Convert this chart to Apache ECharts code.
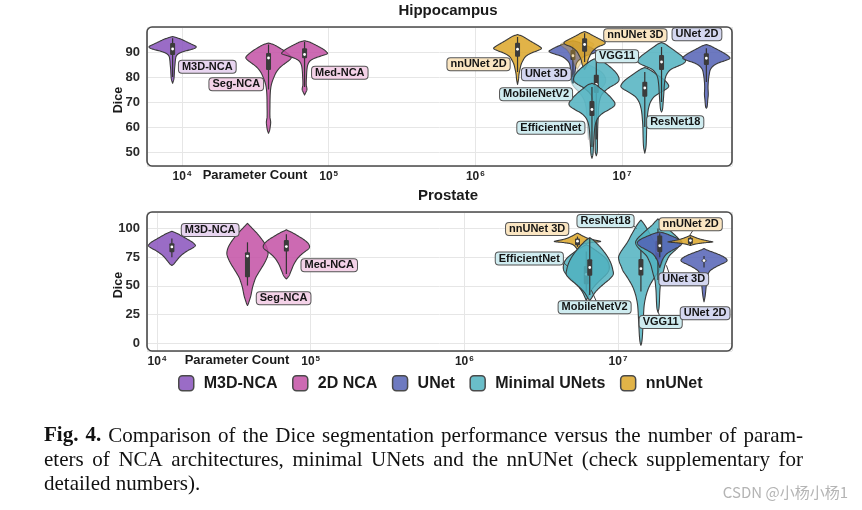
<!DOCTYPE html>
<html><head><meta charset="utf-8">
<script src="https://cdn.jsdelivr.net/npm/echarts@6/dist/echarts.min.js"></script>
<style>html,body{margin:0;padding:0;background:#fff}#c{width:862px;height:510px}</style>
</head><body><div id="c"></div>
<script>
// ================= DATA =================
const groups = ['M3D-NCA', '2D NCA', 'UNet', 'Minimal UNets', 'nnUNet'];
const xTickExps = [4, 5, 6, 7];
const hipYTicks = [50, 60, 70, 80, 90];
const proYTicks = [0, 25, 50, 75, 100];

// Hippocampus ('' = unlabeled overlapping fold, drawn translucent)
const hipModels = ['M3D-NCA', 'Seg-NCA', 'Med-NCA', 'nnUNet 2D', 'UNet 3D', '', 'nnUNet 3D', '', 'MobileNetV2', 'EfficientNet', 'ResNet18', 'VGG11', 'UNet 2D'];
const hipGroup = ['M3D-NCA', '2D NCA', '2D NCA', 'nnUNet', 'UNet', 'nnUNet', 'nnUNet', 'Minimal UNets', 'Minimal UNets', 'Minimal UNets', 'Minimal UNets', 'Minimal UNets', 'UNet'];
const hipParams = [8630, 38900, 68500, 1940000, 4630000, 4950000, 5560000, 5900000, 6680000, 6240000, 14300000, 18600000, 37600000];
const hipBox = [ // [low, q1, median, q3, high]
  [80, 88.8, 91.2, 93.6, 95.5],
  [75, 82.8, 87.6, 89.6, 93],
  [76, 87.5, 89, 91.5, 94],
  [82, 88.1, 91.1, 93.7, 96],
  [80, 86.8, 88.5, 90.8, 93],
  null,
  [86, 90.1, 93, 95.5, 97.5],
  null,
  [55, 73.6, 77, 80.9, 86],
  [52, 64.4, 67, 70.4, 76],
  [60, 72.1, 75.6, 78.1, 82],
  [70, 82.8, 86, 88.8, 92],
  [78, 84.8, 87.5, 89.5, 91.5]
];
const hipDensity = [ // [dice, relative density]
  [[96.2,0],[95.7,0.18],[95,0.38],[94,0.6],[93,0.82],[92.2,0.98],[91.6,0.95],[91,0.78],[90.3,0.5],[89.5,0.28],[88.5,0.16],[87,0.12],[85,0.1],[83,0.08],[81,0.07],[79,0.05],[77.5,0]],
  [[93.6,0],[93,0.2],[92,0.4],[90.5,0.65],[89,0.85],[87.8,0.95],[86.8,0.88],[85.5,0.7],[84,0.5],[82,0.33],[80,0.23],[78,0.15],[76,0.1],[73,0.07],[68,0.06],[64,0.06],[62,0.09],[60,0.07],[58.5,0.04],[57.5,0]],
  [[94.5,0],[94,0.2],[93,0.42],[92,0.62],[91,0.8],[90,0.92],[89.3,0.95],[88.5,0.72],[87.5,0.42],[86.5,0.24],[85,0.14],[83,0.1],[80,0.08],[77,0.07],[75,0.1],[74,0.06],[72.8,0]],
  [[97,0],[96.3,0.2],[95.3,0.38],[94.3,0.55],[93.2,0.75],[92.2,0.92],[91.4,1.0],[90.6,0.85],[89.6,0.58],[88.3,0.35],[86.5,0.22],[85,0.15],[83,0.1],[81,0.06],[79,0.04],[77,0]],
  [[94.5,0],[94,0.2],[93,0.45],[92,0.7],[91,0.9],[90.2,1.0],[89.3,0.8],[88.3,0.48],[87,0.28],[85.5,0.15],[83,0.1],[80,0.06],[78,0.03],[77.5,0]],
  [[96,0],[95,0.35],[94,0.55],[93,0.7],[92,0.6],[91,0.45],[89,0.3],[87,0.2],[85,0.12],[83,0]],
  [[98.2,0],[97.6,0.15],[96.7,0.32],[95.7,0.52],[94.7,0.72],[93.8,0.86],[93,0.8],[92,0.55],[90.5,0.35],[89,0.25],[87,0.15],[85,0.1],[83,0]],
  [[85,0],[83.5,0.3],[82,0.55],[80,0.7],[78,0.72],[76,0.6],[74,0.4],[72,0.25],[70,0.15],[66,0.08],[60,0.04],[55,0]],
  [[87.5,0],[86.8,0.18],[85.5,0.38],[84,0.58],[82.5,0.75],[81,0.88],[79.5,0.95],[78.3,0.93],[77.2,0.8],[75.8,0.55],[74.3,0.35],[72.8,0.22],[71,0.15],[68,0.1],[64,0.08],[60,0.06],[55,0.05],[50,0.04],[48.5,0]],
  [[77.5,0],[76.8,0.18],[75.5,0.35],[74,0.55],[72.5,0.72],[71,0.86],[69.5,0.96],[68.3,0.92],[67,0.72],[65.5,0.45],[64,0.28],[62,0.17],[59,0.11],[55,0.08],[52,0.06],[49,0.04],[47.5,0]],
  [[83.8,0],[83.2,0.15],[82.2,0.32],[81,0.5],[79.8,0.68],[78.6,0.84],[77.3,0.96],[76.2,1.0],[75.2,0.9],[74.2,0.72],[73,0.52],[72,0.38],[70,0.24],[68,0.17],[66,0.13],[63,0.1],[60,0.08],[56,0.07],[52,0.05],[49.5,0]],
  [[93.8,0],[93.2,0.15],[92.2,0.3],[91,0.48],[89.8,0.65],[88.6,0.82],[87.3,0.96],[86.2,1.0],[85.2,0.88],[84.2,0.65],[83.2,0.42],[82,0.28],[80,0.17],[77,0.12],[74,0.1],[70,0.07],[67,0.04],[66,0]],
  [[93,0],[92.4,0.18],[91.4,0.38],[90.3,0.6],[89.2,0.8],[88.2,0.94],[87.4,0.98],[86.6,0.8],[85.6,0.5],[84.5,0.3],[83,0.17],[81,0.12],[79,0.09],[76,0.07],[73,0.08],[71,0.06],[68,0.03],[67.5,0]]
];

// Prostate
const proModels = ['M3D-NCA', 'Seg-NCA', 'Med-NCA', 'nnUNet 3D', 'EfficientNet', 'MobileNetV2', 'ResNet18', 'VGG11', 'UNet 3D', 'nnUNet 2D', 'UNet 2D'];
const proGroup = ['M3D-NCA', '2D NCA', '2D NCA', 'nnUNet', 'Minimal UNets', 'Minimal UNets', 'Minimal UNets', 'Minimal UNets', 'UNet', 'nnUNet', 'UNet'];
const proParams = [12500, 38800, 69500, 5450000, 6220000, 6550000, 14100000, 18200000, 18700000, 29600000, 36300000];
const proBox = [
  [75, 79.3, 84, 87.2, 91.3],
  [50.2, 57.5, 76, 79.3, 88],
  [60.4, 79.9, 84.3, 90.1, 95],
  [84, 85.4, 89, 91.3, 93],
  [45, 51.4, 60, 67.4, 80],
  [42, 58.7, 66, 73.2, 92],
  [45, 59, 65, 73.5, 85],
  [55, 73.2, 80, 89.3, 100],
  [75, 79.3, 85, 93.9, 96],
  [85.5, 86.6, 89.5, 91.9, 93],
  [66, 71, 72, 73, 76]
];
const proDensity = [
  [[97.6,0],[96,0.2],[94,0.38],[92,0.55],[90,0.72],[88,0.88],[86,0.98],[85,1.0],[83,0.88],[81,0.7],[79,0.55],[77,0.42],[75,0.32],[73,0.24],[71,0.16],[69,0.08],[67.7,0]],
  [[104.6,0],[102,0.12],[99,0.26],[96,0.4],[92,0.56],[88,0.7],[84,0.81],[80,0.87],[77,0.87],[73,0.8],[69,0.7],[65,0.58],[61,0.46],[57,0.35],[53,0.28],[49,0.22],[45,0.18],[41,0.14],[37,0.08],[34,0.03],[32.8,0]],
  [[98.9,0],[97,0.2],[95,0.38],[93,0.54],[91,0.7],[89,0.83],[87,0.93],[85,0.98],[83.5,0.98],[82,0.93],[80,0.8],[77,0.62],[74,0.48],[71,0.38],[68,0.3],[65,0.24],[62,0.18],[59,0.12],[57,0.05],[56,0]],
  [[96,0],[95,0.1],[94,0.18],[93,0.28],[92,0.38],[91,0.52],[90,0.72],[89.2,0.92],[88.6,0.97],[87.8,0.6],[86.8,0.3],[85.3,0.15],[83.3,0.06],[81.5,0]],
  [[86,0],[84,0.18],[81,0.4],[78,0.6],[75,0.78],[72,0.9],[69,0.96],[66,0.98],[63,0.95],[60,0.85],[56,0.65],[52,0.45],[48,0.28],[44,0.15],[40,0.06],[37,0]],
  [[92,0],[90,0.15],[87,0.3],[84,0.44],[80,0.6],[76,0.74],[72,0.85],[68,0.93],[64,0.98],[60,1.0],[56,0.85],[52,0.62],[48,0.4],[44,0.22],[40,0.1],[37,0]],
  [[107.5,0],[105,0.1],[102,0.2],[98,0.31],[94,0.42],[90,0.52],[86.6,0.62],[82,0.78],[78,0.9],[75,0.95],[71,0.92],[67,0.84],[63,0.76],[58,0.6],[53,0.45],[48.7,0.34],[43,0.24],[38,0.18],[33,0.14],[28,0.12],[20,0.1],[12,0.08],[5,0.06],[0,0.03],[-2,0]],
  [[108.5,0],[106,0.12],[103,0.25],[100,0.42],[97,0.58],[94,0.74],[91,0.88],[88,0.95],[85,0.9],[82,0.78],[79,0.62],[76,0.48],[72,0.38],[68,0.3],[64,0.25],[60,0.2],[55,0.13],[50,0.1],[45,0.08],[40,0.07],[35,0.06],[30,0.04],[27,0]],
  [[97,0],[96,0.2],[94,0.45],[92,0.68],[90,0.86],[88,0.95],[86,0.92],[84,0.8],[82,0.62],[80,0.45],[78,0.3],[75,0.18],[72,0.1],[69,0.05],[66,0]],
  [[94,0],[93,0.12],[92,0.24],[91,0.38],[90,0.58],[89,0.8],[88.3,0.95],[87.6,0.6],[86.8,0.3],[86,0.12],[85.2,0]],
  [[82.5,0],[81,0.16],[79.5,0.36],[78,0.55],[76.5,0.72],[75,0.86],[73.5,0.95],[72,0.98],[70.5,0.9],[69,0.75],[67,0.55],[65,0.38],[63,0.25],[60,0.17],[57,0.13],[54,0.12],[51,0.1],[47,0.08],[43,0.06],[40,0.04],[36,0]]
];

// ================= LAYOUT / STYLE =================
const FONT = '"Liberation Sans", Arial, sans-serif';
const groupColor = { // composite colours (legend)
  'M3D-NCA': '#9a6cc6', '2D NCA': '#cc6ab2', 'UNet': '#6e7ac0', 'Minimal UNets': '#6abec9', 'nnUNet': '#e1b348'
};
const groupBase = { // violin fill (drawn at alpha 0.85)
  'M3D-NCA': [136, 82, 188], '2D NCA': [195, 80, 164], 'UNet': [84, 98, 181], 'Minimal UNets': [80, 178, 191], 'nnUNet': [220, 166, 40]
};
const labelFill = {
  'M3D-NCA': '#e8d5f0', '2D NCA': '#f4d2e8', 'UNet': '#d4d7f0', 'Minimal UNets': '#cfecf0', 'nnUNet': '#fbe6c2'
};
const grids = [
  { left: 147, top: 27, width: 585, height: 139 },
  { left: 147, top: 212, width: 585, height: 139 }
];
const xRangeExp = [[3.7614, 7.75], [3.935, 7.742]];
const yRange = [[44.4, 100], [-7, 114.5]];
const violinHalfWidth = [0.163, 0.153]; // decades
const labelAt = [ // label centres [log10 params, dice]
  {'M3D-NCA':[4.1725,84.1],'Seg-NCA':[4.370,77.1],'Med-NCA':[5.076,81.7],'nnUNet 2D':[6.022,85.1],'UNet 3D':[6.484,81.1],
   'MobileNetV2':[6.414,73.1],'EfficientNet':[6.515,59.7],'VGG11':[6.966,88.3],'nnUNet 3D':[7.091,96.7],'UNet 2D':[7.511,97.1],'ResNet18':[7.363,61.9]},
  {'M3D-NCA':[4.346,98.8],'Seg-NCA':[4.824,39.1],'Med-NCA':[5.121,67.9],'nnUNet 3D':[6.474,99.6],'EfficientNet':[6.423,73.8],
   'ResNet18':[6.919,106.6],'nnUNet 2D':[7.473,103.8],'UNet 3D':[7.428,55.7],'MobileNetV2':[6.848,31.2],'VGG11':[7.278,18.4],'UNet 2D':[7.567,26.1]}
];
const connectorAt = [ // label leader lines [[log10 from, dice], [log10 to, dice]]
  [],
  [[[6.638,71.4],[6.668,67.5]], [[6.859,36.5],[6.827,46.1]], [[7.094,103.5],[7.120,100]],
   [[7.336,59.8],[7.315,67.9]], [[7.271,23.6],[7.260,27.7]], [[7.488,98.5],[7.467,94.1]]]
];

const panels = [
  { models: hipModels, group: hipGroup, params: hipParams, box: hipBox, density: hipDensity, hw: violinHalfWidth[0], labels: labelAt[0], yTicks: hipYTicks, conns: connectorAt[0] },
  { models: proModels, group: proGroup, params: proParams, box: proBox, density: proDensity, hw: violinHalfWidth[1], labels: labelAt[1], yTicks: proYTicks, conns: connectorAt[1] }
];

function rgba(c, a) { return 'rgba(' + c[0] + ',' + c[1] + ',' + c[2] + ',' + a + ')'; }

// smooth outline rendering (cubic Hermite through the read profile points)
function outline(prof) {
  const n = prof.length, out = [];
  const m = prof.map(function (p, k) {
    if (k === 0) return (prof[1][1] - p[1]) / (prof[1][0] - p[0]);
    if (k === n - 1) return (p[1] - prof[k - 1][1]) / (p[0] - prof[k - 1][0]);
    return (prof[k + 1][1] - prof[k - 1][1]) / (prof[k + 1][0] - prof[k - 1][0]);
  });
  for (let k = 0; k < n - 1; k++) {
    const d0 = prof[k][0], d1 = prof[k + 1][0], h = d1 - d0;
    const w0 = prof[k][1], w1 = prof[k + 1][1];
    for (let s = 0; s < 8; s++) {
      const t = s / 8, t2 = t * t, t3 = t2 * t;
      const w = (2 * t3 - 3 * t2 + 1) * w0 + (t3 - 2 * t2 + t) * h * m[k] + (-2 * t3 + 3 * t2) * w1 + (t3 - t2) * h * m[k + 1];
      out.push([d0 + h * t, Math.max(0, w)]);
    }
  }
  out.push(prof[n - 1]);
  return out;
}

function violinRenderer(P) {
  return function (params, api) {
    const i = params.dataIndex;
    const prof = outline(P.density[i]), x0 = P.params[i], box = P.box[i];
    const R = [], L = [];
    prof.forEach(function (pt) {
      const f = Math.pow(10, pt[1] * P.hw);
      R.push(api.coord([x0 * f, pt[0]]));
      if (pt[1] > 0) L.unshift(api.coord([x0 / f, pt[0]]));
    });
    const ghost = !box;
    const base = groupBase[P.group[i]];
    const children = [{
      type: 'polygon',
      shape: { points: R.concat(L) },
      style: {
        fill: rgba(base, ghost ? 0.35 : 0.85),
        stroke: ghost ? 'rgba(70,70,70,0.25)' : '#3a3a3a',
        lineWidth: 1.1, lineJoin: 'round'
      }
    }];
    if (box) {
      const pLo = api.coord([x0, box[0]]), pQ1 = api.coord([x0, box[1]]), pM = api.coord([x0, box[2]]),
            pQ3 = api.coord([x0, box[3]]), pHi = api.coord([x0, box[4]]);
      children.push({ type: 'line', shape: { x1: pLo[0], y1: pLo[1], x2: pHi[0], y2: pHi[1] }, style: { stroke: '#333', lineWidth: 1.2 } });
      children.push({ type: 'rect', shape: { x: pQ1[0] - 2.5, y: pQ3[1], width: 5, height: pQ1[1] - pQ3[1], r: 1 }, style: { fill: '#3b3b3b' } });
      children.push({ type: 'circle', shape: { cx: pM[0], cy: pM[1], r: 1.4 }, style: { fill: '#ffffff' } });
    }
    return { type: 'group', children: children };
  };
}

function labelRenderer(P, names) {
  return function (params, api) {
    const name = names[params.dataIndex];
    const pos = P.labels[name];
    const gi = P.models.indexOf(name);
    const p = api.coord([Math.pow(10, pos[0]), pos[1]]);
    return {
      type: 'text', x: p[0], y: p[1], z2: 50,
      style: {
        text: name, align: 'center', verticalAlign: 'middle',
        font: 'bold 11px ' + FONT, fill: '#141414',
        backgroundColor: labelFill[P.group[gi]], borderColor: '#555', borderWidth: 1,
        borderRadius: 3, padding: [1, 3, 0, 3]
      }
    };
  };
}

function connRenderer(P) {
  return function (params, api) {
    const c = P.conns[params.dataIndex];
    const a = api.coord([Math.pow(10, c[0][0]), c[0][1]]), b = api.coord([Math.pow(10, c[1][0]), c[1][1]]);
    return { type: 'line', shape: { x1: a[0], y1: a[1], x2: b[0], y2: b[1] }, style: { stroke: '#444', lineWidth: 1 } };
  };
}

const xAxes = [0, 1].map(function (g) {
  return {
    type: 'log', logBase: 10, gridIndex: g,
    min: Math.pow(10, xRangeExp[g][0]), max: Math.pow(10, xRangeExp[g][1]),
    axisLine: { show: false }, axisTick: { show: false },
    splitLine: { show: true, lineStyle: { color: '#e6e6e6', width: 1 } },
    axisLabel: {
      margin: 4,
      formatter: function (v) {
        const e = Math.log10(v), r = Math.round(e);
        return (Math.abs(e - r) < 1e-6 && xTickExps.indexOf(r) >= 0) ? '{b|10}{s|' + r + '}' : '';
      },
      rich: {
        b: { fontSize: 12, fontWeight: 'bold', color: '#222', fontFamily: FONT },
        s: { fontSize: 8, fontWeight: 'bold', color: '#222', fontFamily: FONT, verticalAlign: 'top', padding: [0, 0, 6, 1] }
      }
    }
  };
});
const yAxes = [0, 1].map(function (g) {
  const step = g === 0 ? 10 : 25;
  return {
    type: 'value', gridIndex: g, min: yRange[g][0], max: yRange[g][1],
    minInterval: step, maxInterval: step,
    axisLine: { show: false }, axisTick: { show: false },
    splitLine: { show: true, lineStyle: { color: '#e6e6e6', width: 1 } },
    axisLabel: {
      margin: 7, fontSize: 13, fontWeight: 'bold', color: '#2a2a2a', fontFamily: FONT,
      formatter: function (v) { return panels[g].yTicks.indexOf(Math.round(v * 1000) / 1000) >= 0 ? String(v) : ''; }
    }
  };
});

const series = [];
panels.forEach(function (P, g) {
  series.push({
    type: 'custom', name: 'violins' + g, xAxisIndex: g, yAxisIndex: g, silent: true,
    data: P.params.map(function (p, i) { return [p, P.density[i][0][0]]; }),
    renderItem: violinRenderer(P), z: 2
  });
  if (P.conns.length) {
    series.push({
      type: 'custom', name: 'conn' + g, xAxisIndex: g, yAxisIndex: g, silent: true,
      data: P.conns.map(function (c) { return [Math.pow(10, c[0][0]), c[0][1]]; }),
      renderItem: connRenderer(P), z: 4
    });
  }
  const names = P.models.filter(function (n) { return n && P.labels[n]; });
  series.push({
    type: 'custom', name: 'labels' + g, xAxisIndex: g, yAxisIndex: g, silent: true,
    data: names.map(function (n) { return [Math.pow(10, P.labels[n][0]), P.labels[n][1]]; }),
    renderItem: labelRenderer(P, names), z: 5
  });
});
groups.forEach(function (gname) {
  series.push({ type: 'custom', name: gname, xAxisIndex: 0, yAxisIndex: 0, data: [], itemStyle: { color: groupColor[gname] }, renderItem: function () { return null; } });
});

// caption (justified words)
const capLeft = 44, capRight = 803;
const capFont = '21px "Liberation Serif", "Times New Roman", serif';
const capBold = 'bold 21px "Liberation Serif", "Times New Roman", serif';
const capLines = [
  { y: 436, justify: true, words: ['**Fig.', '**4.', 'Comparison', 'of', 'the', 'Dice', 'segmentation', 'performance', 'versus', 'the', 'number', 'of', 'param-'] },
  { y: 460, justify: true, words: ['eters', 'of', 'NCA', 'architectures,', 'minimal', 'UNets', 'and', 'the', 'nnUNet', '(check', 'supplementary', 'for'] },
  { y: 484, justify: false, words: ['detailed', 'numbers).'] }
];
const mctx = document.createElement('canvas').getContext('2d');
function tw(t, f) { mctx.font = f; return mctx.measureText(t).width; }
const graphics = [];
capLines.forEach(function (ln) {
  const items = ln.words.map(function (w) { const b = w.indexOf('**') === 0; const t = b ? w.slice(2) : w; return { t: t, f: b ? capBold : capFont }; });
  const ws = items.map(function (it) { return tw(it.t, it.f); });
  const total = ws.reduce(function (a, b) { return a + b; }, 0);
  const gap = ln.justify ? (capRight - capLeft - total) / (items.length - 1) : tw(' ', capFont);
  let x = capLeft;
  items.forEach(function (it, k) {
    graphics.push({ type: 'text', x: x, y: ln.y, style: { text: it.t, font: it.f, fill: '#111', verticalAlign: 'middle' } });
    x += ws[k] + gap;
  });
});
// titles, axis captions, frames
graphics.push({ type: 'text', x: 448, y: 11, style: { text: 'Hippocampus', font: 'bold 15px ' + FONT, fill: '#1a1a1a', align: 'center', verticalAlign: 'middle' } });
graphics.push({ type: 'text', x: 448, y: 196, style: { text: 'Prostate', font: 'bold 15px ' + FONT, fill: '#1a1a1a', align: 'center', verticalAlign: 'middle' } });
graphics.push({ type: 'text', x: 255, y: 175, style: { text: 'Parameter Count', font: 'bold 13px ' + FONT, fill: '#1a1a1a', align: 'center', verticalAlign: 'middle' } });
graphics.push({ type: 'text', x: 237, y: 360, style: { text: 'Parameter Count', font: 'bold 13px ' + FONT, fill: '#1a1a1a', align: 'center', verticalAlign: 'middle' } });
graphics.push({ type: 'text', x: 119, y: 100, rotation: Math.PI / 2, style: { text: 'Dice', font: 'bold 12.5px ' + FONT, fill: '#1a1a1a', align: 'center', verticalAlign: 'middle' } });
graphics.push({ type: 'text', x: 119, y: 285, rotation: Math.PI / 2, style: { text: 'Dice', font: 'bold 12.5px ' + FONT, fill: '#1a1a1a', align: 'center', verticalAlign: 'middle' } });
grids.forEach(function (gr) {
  graphics.push({ type: 'rect', z: 100, shape: { x: gr.left, y: gr.top, width: gr.width, height: gr.height, r: 5 }, style: { fill: 'none', stroke: '#4a4a4a', lineWidth: 1.6 } });
});
graphics.push({ type: 'text', x: 848, y: 492, style: { text: 'CSDN @小杨小杨1', font: '15px "Noto Sans CJK SC", sans-serif', fill: '#b4b4b4', align: 'right', verticalAlign: 'middle' } });

const chart = echarts.init(document.getElementById('c'), null, { renderer: 'canvas' });
chart.setOption({
  animation: false,
  backgroundColor: '#fff',
  grid: grids.map(function (g) { return Object.assign({ containLabel: false }, g); }),
  xAxis: xAxes,
  yAxis: yAxes,
  legend: {
    left: 178, top: 375, padding: 0, itemWidth: 15, itemHeight: 15, itemGap: 14.5, selectedMode: false,
    icon: 'roundRect',
    itemStyle: { borderColor: '#4a4a4a', borderWidth: 1.5 },
    textStyle: { fontSize: 16, fontWeight: 'bold', color: '#1a1a1a', fontFamily: FONT, padding: [0, 0, 0, 5] },
    data: groups
  },
  series: series,
  graphic: graphics
});
</script>
</body></html>
